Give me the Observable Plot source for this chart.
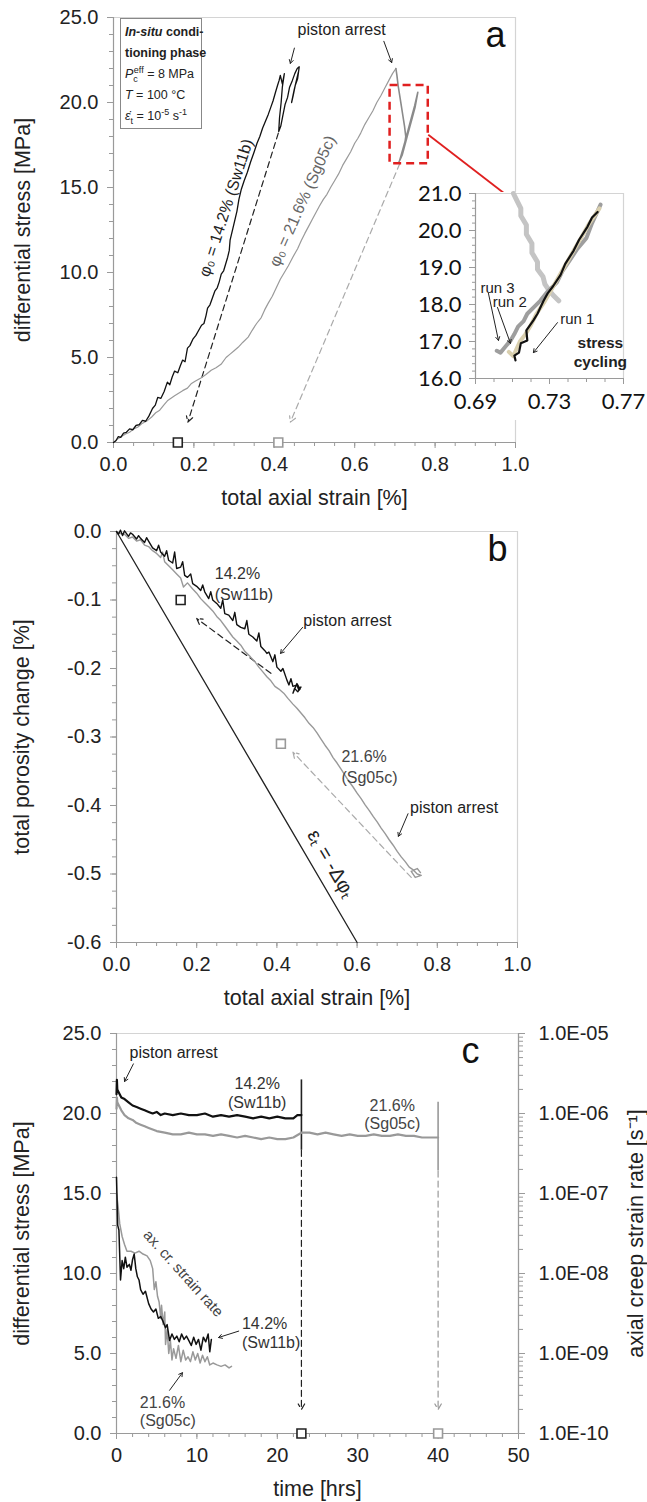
<!DOCTYPE html>
<html><head><meta charset="utf-8">
<script src="https://cdn.jsdelivr.net/npm/d3@7"></script>
<script src="https://cdn.jsdelivr.net/npm/@observablehq/plot@0.6"></script>
<style>
body{margin:0;background:#fff;}
#wrap{position:relative;width:647px;height:1502px;overflow:hidden;font-family:"Liberation Sans",Arial,sans-serif;background:#fff;}
.pl{position:absolute;}
.pl svg{overflow:visible;}
.info{position:absolute;left:120px;top:18px;width:82px;height:111px;border:1.5px solid #888;background:#fff;font-size:12.5px;line-height:21px;padding:3px 0 0 4px;box-sizing:border-box;color:#222;white-space:nowrap;}
.info sub,.info sup{font-size:9px;line-height:0;}
</style></head>
<body><div id="wrap"></div>
<script>
// ---------------- DATA ----------------
// Panel a: total axial strain [%] vs differential stress [MPa]
const aBlack = [[0,0],[0.006,0.1],[0.012,0.35],[0.018,0.3],[0.025,0.55],[0.032,0.6],[0.04,0.8],[0.048,0.75],[0.056,1.0],[0.064,1.05],[0.072,1.3],[0.08,1.25],[0.088,1.55],[0.097,2.0],[0.104,2.2],[0.11,2.65],[0.118,2.6],[0.126,3.0],[0.134,3.55],[0.14,3.4],[0.146,3.85],[0.152,4.2],[0.16,4.1],[0.166,4.5],[0.172,4.85],[0.178,4.75],[0.184,5.55],[0.19,5.7],[0.198,6.1],[0.205,6.3],[0.212,6.6],[0.219,6.9],[0.225,7.0],[0.23,7.45],[0.234,7.9],[0.24,8.1],[0.246,8.5],[0.252,8.9],[0.258,9.1],[0.263,9.45],[0.268,9.9],[0.274,10.1],[0.279,10.5],[0.284,10.9],[0.288,11.3],[0.29,11.9],[0.293,12.2],[0.297,12.6],[0.302,13.1],[0.307,13.6],[0.312,14.3],[0.318,14.9],[0.325,15.4],[0.333,15.9],[0.341,16.5],[0.35,17.1],[0.357,17.6],[0.364,18.0],[0.371,18.5],[0.378,18.9],[0.385,19.3],[0.391,19.7],[0.397,20.1],[0.403,20.6],[0.408,21.0],[0.412,21.3],[0.415,21.6],[0.42,21.1],[0.425,21.7],[0.42,20.9],[0.417,20.0],[0.413,19.1],[0.411,18.3],[0.416,18.6],[0.421,19.2],[0.427,19.9],[0.433,20.3],[0.438,20.9],[0.445,21.3],[0.451,21.7],[0.457,22.0],[0.462,22.1],[0.458,21.4],[0.452,21.0],[0.447,20.4],[0.443,20.0],[0.449,20.7],[0.455,21.3],[0.46,21.8]];
const aGray = [[0,0],[0.01,0.2],[0.02,0.35],[0.03,0.5],[0.04,0.6],[0.05,0.8],[0.06,0.9],[0.07,1.1],[0.085,1.3],[0.095,1.5],[0.105,1.75],[0.115,1.9],[0.125,2.2],[0.134,2.45],[0.143,2.6],[0.152,2.75],[0.162,2.9],[0.172,3.05],[0.184,3.2],[0.193,3.45],[0.203,3.6],[0.2175,3.8],[0.23,4.0],[0.243,4.25],[0.255,4.4],[0.2675,4.6],[0.28,5.0],[0.29,5.2],[0.3,5.4],[0.31,5.6],[0.322,5.9],[0.335,6.2],[0.345,6.6],[0.356,7.0],[0.3675,7.35],[0.376,7.8],[0.385,8.2],[0.395,8.6],[0.405,9.1],[0.415,9.6],[0.425,10.0],[0.435,10.4],[0.446,10.9],[0.458,11.4],[0.4675,11.9],[0.476,12.3],[0.485,12.7],[0.494,13.1],[0.503,13.5],[0.512,13.9],[0.522,14.3],[0.531,14.6],[0.54,15.0],[0.55,15.4],[0.56,15.8],[0.57,16.3],[0.58,16.7],[0.59,17.1],[0.6,17.6],[0.608,17.9],[0.615,18.2],[0.625,18.7],[0.635,19.1],[0.645,19.5],[0.655,20.0],[0.665,20.4],[0.675,20.85],[0.685,21.3],[0.694,21.7],[0.7025,22.0]];
const aGrayArrest = [[0.7025,22.0],[0.705,21.6],[0.708,21.0],[0.712,20.4],[0.716,19.8],[0.72,19.2],[0.724,18.6],[0.727,18.0],[0.724,17.5],[0.72,17.1],[0.716,16.8],[0.712,16.6],[0.718,17.1],[0.725,17.7],[0.733,18.4],[0.741,19.1],[0.749,19.8],[0.757,20.6],[0.75,19.7],[0.742,19.0],[0.734,18.3],[0.726,17.6],[0.718,16.9],[0.71,16.5]];
const aUnload = [{x1:0.41,y1:18.2,x2:0.185,y2:1.2,c:"#222"},{x1:0.712,y1:16.4,x2:0.44,y2:1.2,c:"#aaa"}];
const aSquares = [{x:0.16,y:0,c:"#222"},{x:0.41,y:0,c:"#999"}];
const aXTicks = [0,0.2,0.4,0.6,0.8,1.0];
const aYTicks = [0,5,10,15,20,25];
// inset (stress cycling)
const insetRelax = [[0.7105,21.0],[0.712,20.85],[0.7145,20.6],[0.7145,20.4],[0.7175,20.15],[0.7175,19.9],[0.7205,19.65],[0.7205,19.4],[0.7235,19.15],[0.7235,18.95],[0.7265,18.75],[0.7275,18.55],[0.7295,18.4],[0.732,18.25],[0.735,18.1]];
const insetRun3 = [[0.7015,16.75],[0.7035,16.7],[0.706,16.85],[0.709,17.03],[0.711,17.2],[0.713,17.4],[0.716,17.55],[0.718,17.75],[0.722,17.95],[0.725,18.1],[0.729,18.35],[0.734,18.6],[0.737,18.9],[0.741,19.2],[0.745,19.5],[0.75,19.8],[0.753,20.2],[0.7576,20.7]];
const insetRun2 = [[0.708,16.72],[0.7105,16.6],[0.712,16.78],[0.714,17.0],[0.717,17.2],[0.72,17.45],[0.723,17.75],[0.727,18.05],[0.731,18.4],[0.735,18.75],[0.739,19.1],[0.743,19.45],[0.747,19.8],[0.751,20.15],[0.755,20.45],[0.757,20.6]];
const insetRun1 = [[0.7116,16.49],[0.711,16.62],[0.7135,16.7],[0.7145,16.95],[0.718,17.03],[0.7175,17.3],[0.7213,17.57],[0.7235,17.75],[0.7268,18.1],[0.729,18.3],[0.732,18.5],[0.736,18.8],[0.7385,19.1],[0.743,19.45],[0.746,19.75],[0.7505,20.1],[0.753,20.35],[0.756,20.5]];
const insetXTicks = [0.69,0.73,0.77];
const insetYTicks = [16,17,18,19,20,21];

// Panel b: total axial strain [%] vs total porosity change [%]
const bBlack = [[0,0],[0.005,-0.004],[0.01,0.002],[0.015,-0.006],[0.02,0.001],[0.03,-0.007],[0.035,-0.002],[0.04,-0.004],[0.05,-0.011],[0.055,-0.006],[0.06,-0.01],[0.07,-0.016],[0.075,-0.009],[0.08,-0.014],[0.09,-0.024],[0.1,-0.028],[0.105,-0.02],[0.11,-0.03],[0.12,-0.036],[0.125,-0.028],[0.13,-0.042],[0.14,-0.046],[0.145,-0.03],[0.15,-0.054],[0.16,-0.052],[0.165,-0.044],[0.17,-0.064],[0.177,-0.067],[0.185,-0.062],[0.19,-0.076],[0.2,-0.08],[0.21,-0.086],[0.215,-0.078],[0.22,-0.088],[0.23,-0.098],[0.235,-0.088],[0.24,-0.1],[0.25,-0.105],[0.26,-0.112],[0.265,-0.1],[0.27,-0.12],[0.28,-0.122],[0.29,-0.13],[0.295,-0.118],[0.3,-0.136],[0.31,-0.14],[0.32,-0.142],[0.325,-0.13],[0.33,-0.15],[0.34,-0.154],[0.35,-0.16],[0.355,-0.148],[0.36,-0.168],[0.37,-0.174],[0.375,-0.178],[0.38,-0.176],[0.39,-0.19],[0.395,-0.18],[0.4,-0.198],[0.41,-0.204],[0.415,-0.2],[0.425,-0.217],[0.43,-0.224],[0.435,-0.215],[0.44,-0.226],[0.45,-0.224],[0.455,-0.232],[0.46,-0.227],[0.452,-0.234],[0.444,-0.229],[0.44,-0.236],[0.45,-0.222],[0.458,-0.23]];
const bGray = [[0,0],[0.01,-0.003],[0.02,-0.004],[0.03,-0.01],[0.04,-0.008],[0.05,-0.014],[0.06,-0.012],[0.07,-0.02],[0.08,-0.022],[0.09,-0.028],[0.1,-0.032],[0.11,-0.038],[0.115,-0.03],[0.12,-0.044],[0.13,-0.05],[0.14,-0.056],[0.15,-0.062],[0.16,-0.068],[0.167,-0.081],[0.177,-0.075],[0.19,-0.084],[0.2,-0.09],[0.21,-0.098],[0.22,-0.104],[0.23,-0.11],[0.24,-0.116],[0.25,-0.124],[0.26,-0.13],[0.27,-0.138],[0.28,-0.146],[0.29,-0.154],[0.3,-0.16],[0.31,-0.166],[0.32,-0.175],[0.334,-0.183],[0.345,-0.19],[0.355,-0.198],[0.365,-0.205],[0.375,-0.212],[0.385,-0.218],[0.395,-0.226],[0.405,-0.23],[0.417,-0.236],[0.428,-0.244],[0.44,-0.252],[0.45,-0.258],[0.46,-0.265],[0.47,-0.272],[0.48,-0.28],[0.49,-0.286],[0.5,-0.294],[0.51,-0.303],[0.52,-0.312],[0.53,-0.32],[0.54,-0.33],[0.55,-0.338],[0.56,-0.347],[0.57,-0.356],[0.58,-0.365],[0.59,-0.373],[0.6,-0.382],[0.61,-0.39],[0.62,-0.399],[0.63,-0.407],[0.64,-0.416],[0.65,-0.424],[0.66,-0.433],[0.67,-0.441],[0.68,-0.45],[0.69,-0.458],[0.7,-0.467],[0.71,-0.475],[0.72,-0.482],[0.73,-0.49],[0.74,-0.494],[0.75,-0.5],[0.76,-0.502],[0.745,-0.505],[0.735,-0.496],[0.75,-0.492],[0.758,-0.498]];
const bLine = [[0,0],[0.6,-0.6]];
const bUnload = [{x1:0.385,y1:-0.207,x2:0.2,y2:-0.127,c:"#222"},{x1:0.735,y1:-0.505,x2:0.44,y2:-0.322,c:"#aaa"}];
const bSquares = [{x:0.16,y:-0.1,c:"#222"},{x:0.41,y:-0.31,c:"#999"}];
const bXTicks = [0,0.2,0.4,0.6,0.8,1.0];
const bYTicks = [0,-0.1,-0.2,-0.3,-0.4,-0.5,-0.6];

// Panel c: time [hrs] vs differential stress [MPa] and axial creep strain rate [1/s]
const cBlackStress = [[0,21.2],[0.05,22.1],[0.1,21.5],[0.3,21.3],[0.6,21.0],[1,20.9],[1.5,20.7],[2,20.5],[2.5,20.4],[3,20.3],[3.5,20.2],[4,20.1],[4.5,20.0],[5,20.1],[5.5,19.9],[6,20.0],[7,19.9],[8,20.0],[9,19.9],[10,19.9],[11,20.0],[12,19.8],[13,19.9],[14,19.8],[15,19.9],[16,19.8],[17,19.7],[18,19.8],[19,19.7],[20,19.8],[21,19.7],[22,19.7],[22.5,19.9],[23,19.9]];
const cGrayStress = [[0,20.3],[0.05,21.0],[0.1,20.7],[0.3,20.5],[0.6,20.2],[1,19.9],[1.5,19.7],[2,19.6],[2.5,19.4],[3,19.3],[3.5,19.2],[4,19.1],[5,18.9],[6,18.8],[7,18.7],[8,18.7],[9,18.8],[10,18.7],[11,18.7],[12,18.6],[13,18.7],[14,18.6],[15,18.5],[16,18.6],[17,18.5],[18,18.4],[19,18.5],[20,18.4],[21,18.4],[22,18.5],[23,18.8],[24,18.8],[25,18.7],[26,18.8],[27,18.7],[28,18.6],[29,18.7],[30,18.6],[31,18.6],[32,18.7],[33,18.6],[34,18.6],[35,18.7],[36,18.6],[37,18.6],[38,18.5],[39,18.5],[40,18.5]];
const cBlackRate = [[0,1.6e-7],[0.15,4.0e-8],[0.3,3.5e-8],[0.5,8.3e-9],[0.7,1.45e-8],[0.9,1.15e-8],[1.1,1.6e-8],[1.3,1.2e-8],[1.6,1.3e-8],[1.8,1.1e-8],[2.0,1.5e-8],[2.2,1.75e-8],[2.4,1.15e-8],[2.6,9.1e-9],[2.8,8.3e-9],[3.0,6.3e-9],[3.3,5.5e-9],[3.6,6.0e-9],[4.0,4.2e-9],[4.3,3.6e-9],[4.6,3.3e-9],[4.9,3.6e-9],[5.2,2.75e-9],[5.5,2.9e-9],[5.8,2.5e-9],[6.1,2.1e-9],[6.3,2.3e-9],[6.6,1.45e-9],[6.9,1.75e-9],[7.2,1.5e-9],[7.5,1.65e-9],[7.8,1.4e-9],[8.1,1.75e-9],[8.4,1.5e-9],[8.7,1.65e-9],[9.0,1.45e-9],[9.3,1.26e-9],[9.6,1.6e-9],[9.9,1.3e-9],[10.2,1.5e-9],[10.5,1.1e-9],[10.8,1.6e-9],[11.1,1.4e-9],[11.4,1.75e-9],[11.6,1.05e-9],[11.8,1.5e-9]];
const cGrayRate = [[0,1.0e-7],[0.2,6.9e-8],[0.4,4.2e-8],[0.7,2.9e-8],[1.0,2.3e-8],[1.3,1.9e-8],[1.8,1.9e-8],[2.3,1.8e-8],[2.8,1.9e-8],[3.3,1.75e-8],[3.8,1.66e-8],[4.2,1.45e-8],[4.5,1.15e-8],[4.7,6.3e-9],[4.9,7.9e-9],[5.1,5.2e-9],[5.3,4.4e-9],[5.5,2.75e-9],[5.6,4.0e-9],[5.8,2.3e-9],[6.0,3.3e-9],[6.1,1.3e-9],[6.3,2.0e-9],[6.5,1.0e-9],[6.7,1.45e-9],[6.9,8.3e-10],[7.1,1.15e-9],[7.4,8.7e-10],[7.7,1.26e-9],[8.0,7.9e-10],[8.3,1.1e-9],[8.6,8.3e-10],[8.9,9.1e-10],[9.2,7.9e-10],[9.5,1.05e-9],[9.8,8.3e-10],[10.1,1.0e-9],[10.4,7.6e-10],[10.7,9.5e-10],[11.0,7.9e-10],[11.3,9.1e-10],[11.6,7.2e-10],[12.0,7.6e-10],[12.5,7.2e-10],[13.0,6.9e-10],[13.5,7.2e-10],[14.0,6.6e-10],[14.3,6.9e-10]];
const cEnds = [{t:23,top:22.1,bot:17.7,c:"#222"},{t:40,top:20.7,bot:16.4,c:"#999"}];
const cSquares = [{x:23,y:0,c:"#222"},{x:40,y:0,c:"#999"}];
const cXTicks = [0,10,20,30,40,50];
const cYTicks = [0,5,10,15,20,25];
const cRateTicks = [1e-10,1e-9,1e-8,1e-7,1e-6,1e-5];

// ---------------- HELPERS ----------------
const FONT = "Liberation Sans, Arial, sans-serif";
const AX = "#9a9a9a", FR = "#d4d4d4", TXT = "#222";
const ANN = 16, TITLE = 21.5;
const f1 = d => d.toFixed(1);
const fE = d => { const e = Math.round(Math.log10(d)); return "1.0E" + (e < 0 ? "-" : "+") + String(Math.abs(e)).padStart(2, "0"); };
const pts = arr => arr.map(([x, y]) => ({x, y}));
function place(el, left, top) {
  const d = document.createElement("div");
  d.className = "pl"; d.style.left = left + "px"; d.style.top = top + "px";
  d.appendChild(el); document.getElementById("wrap").appendChild(d); return d;
}
const styleBase = {fontFamily: FONT, fontSize: "20px", color: TXT, background: "transparent", overflow: "visible"};
function frameAxes(xd, yd, xt, yt, xMinor, yMinor, xfmt) {
  return [
    Plot.ruleY([yd[1]], {stroke: FR, strokeWidth: 1.2}),
    Plot.ruleX([xd[1]], {stroke: FR, strokeWidth: 1.2}),
    Plot.axisX({ticks: xMinor, tickSize: 4, text: null, stroke: AX, label: null}),
    Plot.axisY({ticks: yMinor, tickSize: 4, text: null, stroke: AX, label: null}),
    Plot.axisX({ticks: xt, tickSize: 6, tickPadding: 8, tickFormat: xfmt || f1, stroke: AX, label: null, fill: TXT}),
    Plot.axisY({ticks: yt, tickSize: 6, tickPadding: 9, tickFormat: f1, stroke: AX, label: null, fill: TXT}),
    Plot.ruleX([xd[0]], {stroke: AX, strokeWidth: 1.2}),
    Plot.ruleY([yd[0]], {stroke: AX, strokeWidth: 1.2})
  ];
}
const yTitle = (t, dx) => Plot.text([t], {frameAnchor: "left", textAnchor: "middle", lineAnchor: "middle", dx, rotate: -90, fontSize: TITLE, fill: TXT});
const xTitle = t => Plot.text([t], {frameAnchor: "bottom", textAnchor: "middle", lineAnchor: "middle", dy: 56, fontSize: TITLE, fill: TXT});
const panelTag = (t, dx, dy) => Plot.text([t], {frameAnchor: "top-right", textAnchor: "end", lineAnchor: "top", dx, dy, fontSize: 36, fill: "#111"});

// ---------------- PANEL A ----------------
const plotA = Plot.plot({
  width: 647, height: 515, marginLeft: 113, marginRight: 132, marginTop: 17, marginBottom: 73,
  x: {domain: [0, 1], axis: null}, y: {domain: [0, 25], axis: null}, style: styleBase,
  marks: [
    ...frameAxes([0, 1], [0, 25], aXTicks, aYTicks, d3.range(0, 1.001, 0.05), d3.range(0, 25.01, 1)),
    Plot.arrow(aUnload, {x1: "x1", y1: "y1", x2: "x2", y2: "y2", stroke: "c", strokeWidth: 1.2, strokeDasharray: "6,4", headLength: 8}),
    Plot.line(pts(aGray), {x: "x", y: "y", stroke: "#9a9a9a", strokeWidth: 1.2}),
    Plot.line(pts(aGrayArrest), {x: "x", y: "y", stroke: "#8a8a8a", strokeWidth: 1.6}),
    Plot.line(pts(aBlack), {x: "x", y: "y", stroke: "#111", strokeWidth: 1.3}),
    Plot.dot(aSquares, {x: "x", y: "y", stroke: "c", fill: "white", symbol: "square", r: 5, strokeWidth: 1.6}),
    Plot.rect([{x1: 0.688, x2: 0.783, y1: 16.4, y2: 21.0}], {x1: "x1", x2: "x2", y1: "y1", y2: "y2", stroke: "#e02020", strokeWidth: 2.5, strokeDasharray: "8,5", fill: "none"}),
    Plot.link([{x1: 0.783, y1: 18.1, x2: 0.975, y2: 14.6}], {x1: "x1", y1: "y1", x2: "x2", y2: "y2", stroke: "#e02020", strokeWidth: 1.8}),
    Plot.text(["φ₀ = 14.2% (Sw11b)"], {x: 0.28, y: 13.8, rotate: -72, fontSize: ANN, fill: "#222"}),
    Plot.text(["φ₀ = 21.6% (Sg05c)"], {x: 0.47, y: 14.2, rotate: -66, fontSize: ANN, fill: "#666"}),
    Plot.text(["piston arrest"], {x: 0.5675, y: 24.3, fontSize: ANN, fill: "#222"}),
    Plot.arrow([{x1: 0.45, y1: 23.2, x2: 0.44, y2: 22.3}, {x1: 0.6725, y1: 23.6, x2: 0.692, y2: 22.35}], {x1: "x1", y1: "y1", x2: "x2", y2: "y2", stroke: "#222", strokeWidth: 1, headLength: 6}),
    panelTag("a", -10, 4),
    xTitle("total axial strain [%]"),
    yTitle("differential stress [MPa]", -90)
  ]
});
place(plotA, 0, 0);
const info = document.createElement("div");
info.className = "info";
info.innerHTML = '<b><i>In-situ</i> condi-</b><br><b>tioning phase</b><br><i>P</i><sub>c</sub><sup style="margin-left:-4px">eff</sup> = 8 MPa<br><i>T</i> = 100 °C<br><i>ε̇</i><sub>t</sub> = 10<sup>-5</sup> s<sup>-1</sup>';
document.getElementById("wrap").appendChild(info);

// ---------------- INSET ----------------
const plotI = Plot.plot({
  width: 232, height: 228, marginLeft: 77, marginRight: 7, marginTop: 1, marginBottom: 42,
  x: {domain: [0.69, 0.77], axis: null}, y: {domain: [16, 21], axis: null},
  style: {...styleBase, fontFamily: "Lato, Carlito, sans-serif", fontSize: "22px", background: "white"},
  marks: [
    Plot.ruleY([21], {stroke: FR, strokeWidth: 1.2}),
    Plot.ruleX([0.77], {stroke: FR, strokeWidth: 1.2}),
    Plot.axisX({ticks: d3.range(0.69, 0.7701, 0.01), tickSize: 4, text: null, stroke: AX, label: null}),
    Plot.axisY({ticks: d3.range(16, 21.01, 0.2), tickSize: 3, text: null, stroke: AX, label: null}),
    Plot.axisX({ticks: insetXTicks, tickSize: 6, tickPadding: 9, tickFormat: d => d.toFixed(2), stroke: AX, fill: "#111", label: null}),
    Plot.axisY({ticks: insetYTicks, tickSize: 6, tickPadding: 8, tickFormat: f1, stroke: AX, fill: "#111", label: null}),
    Plot.ruleX([0.69], {stroke: AX, strokeWidth: 1.2}),
    Plot.ruleY([16], {stroke: AX, strokeWidth: 1.2}),
    Plot.line(pts(insetRelax), {x: "x", y: "y", stroke: "#c4c4c4", strokeWidth: 5}),
    Plot.line(pts(insetRun3), {x: "x", y: "y", stroke: "#9e9e9e", strokeWidth: 4}),
    Plot.line(pts(insetRun2), {x: "x", y: "y", stroke: "#d9cfae", strokeWidth: 4}),
    Plot.line(pts(insetRun1), {x: "x", y: "y", stroke: "#111", strokeWidth: 2.2}),
    Plot.text(["run 3"], {x: 0.7019, y: 18.43, fontSize: 15, fontFamily: FONT, fill: "#222"}),
    Plot.text(["run 2"], {x: 0.7085, y: 18.05, fontSize: 15, fontFamily: FONT, fill: "#222"}),
    Plot.text(["run 1"], {x: 0.745, y: 17.6, fontSize: 15, fontFamily: FONT, fill: "#222"}),
    Plot.text(["stress\ncycling"], {x: 0.7575, y: 16.73, fontSize: 15.5, fontWeight: "bold", fontFamily: FONT, fill: "#222", lineHeight: 1.2}),
    Plot.arrow([{x1: 0.697, y1: 18.3, x2: 0.7024, y2: 17.03}, {x1: 0.7019, y1: 17.92, x2: 0.7089, y2: 16.95}, {x1: 0.7343, y1: 17.51, x2: 0.7213, y2: 16.7}], {x1: "x1", y1: "y1", x2: "x2", y2: "y2", stroke: "#222", strokeWidth: 1, headLength: 6})
  ]
});
place(plotI, 398, 192);

// ---------------- PANEL B ----------------
const plotB = Plot.plot({
  width: 647, height: 495, marginLeft: 116, marginRight: 130, marginTop: 16, marginBottom: 68,
  x: {domain: [0, 1], axis: null}, y: {domain: [-0.6, 0], axis: null}, style: styleBase,
  marks: [
    ...frameAxes([0, 1], [-0.6, 0], bXTicks, bYTicks, d3.range(0, 1.001, 0.05), d3.range(-0.6, 0.001, 0.025)),
    Plot.line(pts(bLine), {x: "x", y: "y", stroke: "#222", strokeWidth: 1.3}),
    Plot.arrow(bUnload, {x1: "x1", y1: "y1", x2: "x2", y2: "y2", stroke: "c", strokeWidth: 1.2, strokeDasharray: "6,4", headLength: 8}),
    Plot.line(pts(bGray), {x: "x", y: "y", stroke: "#999", strokeWidth: 1.4}),
    Plot.line(pts(bBlack), {x: "x", y: "y", stroke: "#111", strokeWidth: 1.4}),
    Plot.dot(bSquares, {x: "x", y: "y", stroke: "c", fill: "white", symbol: "square", r: 5, strokeWidth: 1.6}),
    Plot.text(["14.2%\n(Sw11b)"], {x: 0.245, y: -0.075, textAnchor: "start", fontSize: ANN, lineHeight: 1.3, fill: "#333"}),
    Plot.text(["piston arrest"], {x: 0.466, y: -0.13, textAnchor: "start", fontSize: ANN, fill: "#222"}),
    Plot.text(["21.6%\n(Sg05c)"], {x: 0.561, y: -0.342, textAnchor: "start", fontSize: ANN, lineHeight: 1.3, fill: "#444"}),
    Plot.text(["piston arrest"], {x: 0.732, y: -0.403, textAnchor: "start", fontSize: ANN, fill: "#222"}),
    Plot.arrow([{x1: 0.464, y1: -0.14, x2: 0.409, y2: -0.178}, {x1: 0.727, y1: -0.412, x2: 0.703, y2: -0.445}], {x1: "x1", y1: "y1", x2: "x2", y2: "y2", stroke: "#222", strokeWidth: 1, headLength: 6}),
    Plot.text(["εₜ = -Δφₜ"], {x: 0.535, y: -0.485, rotate: 60, fontSize: 20, fill: "#222"}),
    panelTag("b", -10, 4),
    xTitle("total axial strain [%]"),
    yTitle("total porosity change [%]", -94)
  ]
});
place(plotB, 0, 515);

// ---------------- PANEL C ----------------
const plotC = Plot.plot({
  width: 647, height: 492, marginLeft: 116, marginRight: 129, marginTop: 23, marginBottom: 69,
  x: {domain: [0, 50], axis: null}, y: {domain: [0, 25], axis: null}, style: styleBase,
  marks: [
    ...frameAxes([0, 50], [0, 25], cXTicks, cYTicks, d3.range(0, 50.01, 2), d3.range(0, 25.01, 1), d => String(d)),
    Plot.arrow(cEnds, {x1: "t", y1: "bot", x2: "t", y2: 1.5, stroke: "c", strokeWidth: 1.2, strokeDasharray: "6,4", headLength: 8}),
    Plot.ruleX(cEnds, {x: "t", y1: "bot", y2: "top", stroke: "c", strokeWidth: 1.6}),
    Plot.line(pts(cGrayStress), {x: "x", y: "y", stroke: "#999", strokeWidth: 2.2}),
    Plot.line(pts(cBlackStress), {x: "x", y: "y", stroke: "#111", strokeWidth: 2.2}),
    Plot.dot(cSquares, {x: "x", y: "y", stroke: "c", fill: "white", symbol: "square", r: 5, strokeWidth: 1.6}),
    Plot.text(["piston arrest"], {x: 7.1, y: 23.8, fontSize: ANN, fill: "#222"}),
    Plot.arrow([{x1: 2.1, y1: 23.1, x2: 1.0, y2: 22.0}], {x1: "x1", y1: "y1", x2: "x2", y2: "y2", stroke: "#222", strokeWidth: 1, headLength: 6}),
    Plot.text(["14.2%\n(Sw11b)"], {x: 17.5, y: 21.3, fontSize: ANN, lineHeight: 1.2, fill: "#333"}),
    Plot.text(["21.6%\n(Sg05c)"], {x: 34.3, y: 19.95, fontSize: ANN, lineHeight: 1.15, fill: "#444"}),
    Plot.text(["ax. cr. strain rate"], {x: 8.3, y: 10.0, rotate: 48, fontSize: 15, fill: "#444"}),
    Plot.text(["14.2%\n(Sw11b)"], {x: 15.6, y: 6.3, textAnchor: "start", fontSize: ANN, lineHeight: 1.2, fill: "#333"}),
    Plot.text(["21.6%\n(Sg05c)"], {x: 2.9, y: 1.4, textAnchor: "start", fontSize: ANN, lineHeight: 1.15, fill: "#444"}),
    Plot.arrow([{x1: 15.2, y1: 6.4, x2: 12.7, y2: 6.0}, {x1: 6.6, y1: 2.7, x2: 8.2, y2: 3.8}], {x1: "x1", y1: "y1", x2: "x2", y2: "y2", stroke: "#222", strokeWidth: 1, headLength: 6}),
    panelTag("c", -39, 4),
    xTitle("time [hrs]"),
    yTitle("differential stress [MPa]", -94)
  ]
});
place(plotC, 0, 1010);

const rateMinor = d3.scaleLog().domain([1e-10, 1e-5]).ticks().filter(v => Math.abs(Math.log10(v) - Math.round(Math.log10(v))) > 1e-6);
const plotR = Plot.plot({
  width: 647, height: 492, marginLeft: 116, marginRight: 129, marginTop: 23, marginBottom: 69,
  x: {domain: [0, 50], axis: null}, y: {type: "log", domain: [1e-10, 1e-5], axis: null}, style: styleBase,
  marks: [
    Plot.axisY({anchor: "right", ticks: rateMinor, tickSize: 4, text: null, stroke: AX, label: null}),
    Plot.axisY({anchor: "right", ticks: cRateTicks, tickSize: 6, tickPadding: 14, tickFormat: fE, stroke: AX, fill: TXT, label: null}),
    Plot.ruleX([50], {stroke: AX, strokeWidth: 1.2}),
    Plot.line(pts(cGrayRate), {x: "x", y: "y", stroke: "#999", strokeWidth: 1.5}),
    Plot.line(pts(cBlackRate), {x: "x", y: "y", stroke: "#111", strokeWidth: 1.5}),
    Plot.text(["axial creep strain rate [s⁻¹]"], {frameAnchor: "right", textAnchor: "middle", lineAnchor: "middle", dx: 118, rotate: -90, fontSize: TITLE, fill: TXT})
  ]
});
place(plotR, 0, 1010);
</script></body></html>
